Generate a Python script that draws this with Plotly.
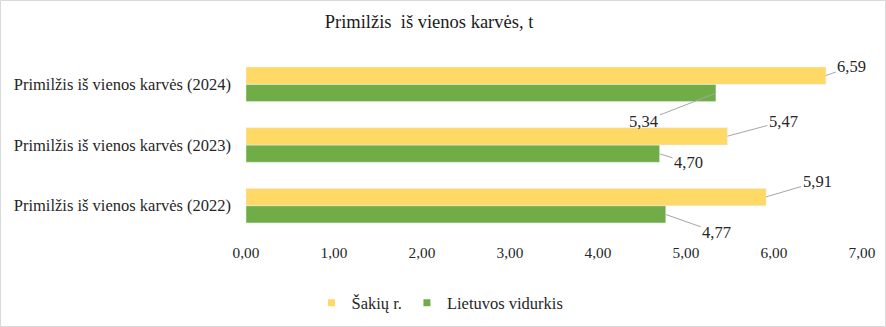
import plotly.graph_objects as go

categories = ["Primilžis iš vienos karvės (2022)",
              "Primilžis iš vienos karvės (2023)",
              "Primilžis iš vienos karvės (2024)"]
sakiai = [5.91, 5.47, 6.59]
lietuva = [4.77, 4.70, 5.34]
series_names = ["Šakių r.", "Lietuvos vidurkis"]
colors = ["#FFD966", "#70AD47"]
x_ticks = [0, 1, 2, 3, 4, 5, 6, 7]

# label offsets (pixels) for leader-lined data labels
sak_off = [(51, -15), (56, -15), (26, -9)]
lt_off = [(51, 18), (29, 9), (-72, 28)]

FONT = "Liberation Serif, Times New Roman, serif"
TXT = "#262626"

fig = go.Figure()
# green first -> lower in each group
fig.add_trace(go.Bar(y=categories, x=lietuva, orientation="h", name=series_names[1],
                     marker_color=colors[1], showlegend=False, hoverinfo="x"))
fig.add_trace(go.Bar(y=categories, x=sakiai, orientation="h", name=series_names[0],
                     marker_color=colors[0], showlegend=False, hoverinfo="x"))
# legend entries
for nm, c in zip(series_names, colors):
    fig.add_trace(go.Scatter(x=[None], y=[None], mode="markers", name=nm,
                             marker=dict(symbol="square", size=7, color=c)))

anns = []
for cat, v, (ax, ay) in zip(categories, sakiai, sak_off):
    anns.append(dict(x=v, y=cat, xref="x", yref="y", yshift=8.8,
                     text=f"{v:.2f}".replace(".", ","), showarrow=True, arrowhead=0,
                     arrowwidth=1, arrowcolor="#A6A6A6", ax=ax, ay=ay, standoff=0,
                     font=dict(family=FONT, size=16.5, color=TXT)))
for cat, v, (ax, ay) in zip(categories, lietuva, lt_off):
    anns.append(dict(x=v, y=cat, xref="x", yref="y", yshift=-8.8,
                     text=f"{v:.2f}".replace(".", ","), showarrow=True, arrowhead=0,
                     arrowwidth=1, arrowcolor="#A6A6A6", ax=ax, ay=ay, standoff=0,
                     font=dict(family=FONT, size=16.5, color=TXT)))

fig.update_layout(
    width=886, height=327,
    margin=dict(l=246, r=24, t=54, b=91, autoexpand=False),
    paper_bgcolor="white", plot_bgcolor="white",
    font=dict(family=FONT, size=16.5, color=TXT),
    separators=", ",
    barmode="group", bargap=0.43, bargroupgap=0,
    title=dict(text="Primilžis  iš vienos karvės, t", x=429/886, xref="container",
               xanchor="center", y=1-22/327, yref="container", yanchor="middle",
               font=dict(family=FONT, size=18.5, color="#1a1a1a")),
    xaxis=dict(range=[0, 7], tickvals=x_ticks, tickformat=".2f", showgrid=False,
               zeroline=False, showline=False, ticks="", ticklabelstandoff=6,
               automargin=False,
               tickfont=dict(family=FONT, size=15.3, color=TXT), fixedrange=True),
    yaxis=dict(type="category", categoryorder="array", categoryarray=categories,
               range=[-0.5, 2.5], autorange=False,
               showgrid=False, zeroline=False, showline=False, ticks="",
               automargin=False,
               ticklabelstandoff=14, tickfont=dict(family=FONT, size=16.5, color=TXT)),
    legend=dict(orientation="h", xref="container", yref="container",
                x=440/886, xanchor="center", y=1-303/327, yanchor="middle",
                font=dict(family=FONT, size=16.5, color=TXT), itemwidth=30,
                bgcolor="rgba(0,0,0,0)"),
    annotations=anns,
    shapes=[dict(type="rect", xref="paper", yref="paper",
                 x0=(0.5-246)/616, x1=(885.5-246)/616,
                 y0=(236-326.5)/182, y1=(236-0.5)/182,
                 line=dict(color="#D9D9D9", width=1), fillcolor="rgba(0,0,0,0)",
                 layer="below")],
)

fig.write_html("out.html")
